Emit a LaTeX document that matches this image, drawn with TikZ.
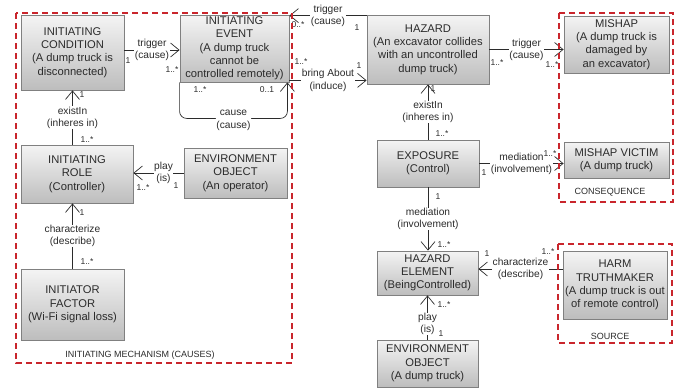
\documentclass[tikz,border=0pt]{standalone}
\usepackage{fontspec}
\setmainfont{Liberation Sans}
\usetikzlibrary{arrows.meta}
\definecolor{frame}{HTML}{C9252C}
\definecolor{ink}{HTML}{2B2B2B}
\definecolor{boxedge}{HTML}{808080}
\definecolor{boxtop}{HTML}{F4F4F4}
\definecolor{boxbot}{HTML}{BDBDBD}
\begin{document}
\begin{tikzpicture}[x=1pt,y=-1pt,
  concept/.style={draw=boxedge, line width=0.8pt, top color=boxtop, bottom color=boxbot,
    align=center, text=ink, inner sep=1pt, font=\fontsize{11.2}{13.3}\selectfont},
  rel/.style={draw=ink, line width=0.7pt, -{Straight Barb[length=8.5pt,width=14pt]}},
  rellabel/.style={fill=white, inner sep=0.5pt, align=center, text=ink,
    font=\fontsize{10.2}{12.2}\selectfont},
  mult/.style={text=ink, inner sep=0pt, font=\fontsize{8.5}{10}\selectfont},
  region/.style={draw=frame, line width=1.6pt, dash pattern=on 6pt off 4pt},
  regionlabel/.style={text=ink, inner sep=0pt, font=\fontsize{9}{11}\selectfont}
]
\useasboundingbox (0,0) rectangle (681,388);

% concepts
\node[concept, minimum width=103pt, minimum height=75pt] (cond) at (72.5,52.5)
  {INITIATING\\CONDITION\\(A dump truck is\\disconnected)};
\node[concept, minimum width=109pt, minimum height=67pt] (event) at (234.5,48.5)
  {INITIATING\\EVENT\\(A dump truck\\cannot be\\controlled remotely)};
\node[concept, minimum width=122pt, minimum height=69pt] (hazard) at (428,49.5)
  {HAZARD\\(An excavator collides\\with an uncontrolled\\dump truck)};
\node[concept, minimum width=105pt, minimum height=57pt] (mishap) at (616.5,44.5)
  {MISHAP\\(A dump truck is\\damaged by\\an excavator)};
\node[concept, minimum width=105pt, minimum height=36pt] (victim) at (616.5,160)
  {MISHAP VICTIM\\(A dump truck)};
\node[concept, minimum width=112pt, minimum height=58pt] (role) at (77,174)
  {INITIATING\\ROLE\\(Controller)};
\node[concept, minimum width=103pt, minimum height=50pt] (envop) at (235.5,173)
  {ENVIRONMENT\\OBJECT\\(An operator)};
\node[concept, minimum width=103pt, minimum height=71pt] (factor) at (72.5,304.5)
  {INITIATOR\\FACTOR\\(Wi-Fi signal loss)};
\node[concept, minimum width=102pt, minimum height=47pt] (exposure) at (428,163.5)
  {EXPOSURE\\(Control)};
\node[concept, minimum width=101pt, minimum height=44pt] (helem) at (427.5,273)
  {HAZARD\\ELEMENT\\(BeingControlled)};
\node[concept, minimum width=101pt, minimum height=47pt] (envdt) at (427.5,363.5)
  {ENVIRONMENT\\OBJECT\\(A dump truck)};
\node[concept, minimum width=104pt, minimum height=68pt] (harm) at (615,285)
  {HARM\\TRUTHMAKER\\(A dump truck is out\\of remote control)};

% relations
\draw[rel] ([yshift=2.5pt]cond.east) -- node[rellabel]{trigger\\(cause)} ([yshift=2.5pt]cond.east -| event.west);
\draw[rel] ([yshift=-1pt]hazard.north west) -- node[rellabel]{trigger\\(cause)} ([yshift=-1pt]event.north east);
\draw[rel] ([yshift=2pt]event.south east) -- node[rellabel]{bring About\\(induce)} ([yshift=2pt]event.south east -| hazard.west);
\draw[rel] (hazard.east) -- node[rellabel]{trigger\\(cause)} (hazard.east -| mishap.west);
\draw[rel] (exposure.north) -- node[rellabel]{existIn\\(inheres in)} (exposure.north |- hazard.south);
\draw[rel] (exposure.east) -- node[rellabel]{mediation\\(involvement)} (exposure.east -| victim.west);
\draw[rel] (exposure.south) -- node[rellabel]{mediation\\(involvement)} (exposure.south |- helem.north);
\draw[rel] ([yshift=4pt]helem.east -| harm.west) -- node[rellabel]{characterize\\(describe)} ([yshift=4pt]helem.east);
\draw[rel] (envdt.north) -- node[rellabel, pos=0.35]{play\\(is)} (envdt.north |- helem.south);
\draw[rel] (envop.west) -- node[rellabel, pos=0.4]{play\\(is)} (envop.west -| role.east);
\draw[rel] (role.north -| cond.south) -- node[rellabel]{existIn\\(inheres in)} (cond.south);
\draw[rel] (factor.north) -- node[rellabel]{characterize\\(describe)} (factor.north |- role.south);
\draw[rel, rounded corners=7pt] (event.south west) -- ([yshift=-36pt]event.south west)
  -- node[rellabel, yshift=-2pt]{cause\\(cause)} ([yshift=-36pt, xshift=-2pt]event.south east)
  -- ([xshift=-2pt]event.south east);

% multiplicities
\node[mult] (m1)  at (128,61)  {1};
\node[mult] (m2)  at (172,70)  {1..*};
\node[mult] (m3)  at (298,25)  {0..*};
\node[mult] (m4)  at (357,28)  {1};
\node[mult] (m5)  at (301,62)  {1..*};
\node[mult] (m6)  at (359,66)  {1};
\node[mult] (m7)  at (497,63)  {1..*};
\node[mult] (m8)  at (552,65)  {1..*};
\node[mult] (m9)  at (433,89)  {1};
\node[mult] (m10) at (442,134) {1..*};
\node[mult] (m11) at (484,173) {1};
\node[mult] (m12) at (550,154) {1..*};
\node[mult] (m13) at (438,197) {1};
\node[mult] (m14) at (444,245) {1..*};
\node[mult] (m15) at (487,254) {1};
\node[mult] (m16) at (548,252) {1..*};
\node[mult] (m17) at (444,305) {1..*};
\node[mult] (m18) at (441,334) {1};
\node[mult] (m19) at (143,188) {1..*};
\node[mult] (m20) at (176,186) {1};
\node[mult] (m21) at (82,95)   {1};
\node[mult] (m22) at (87,140)  {1..*};
\node[mult] (m23) at (82,213)  {1};
\node[mult] (m24) at (87,262)  {1..*};
\node[mult] (m25) at (200,90)  {1..*};
\node[mult] (m26) at (267,90)  {0..1};

% grouping frames
\draw[region] (16,13) rectangle (292,363);
\draw[region] (559,13) rectangle (673,202);
\draw[region] (558,244) rectangle (672,343);
\node[regionlabel] (mechanism) at (140,355) {INITIATING MECHANISM (CAUSES)};
\node[regionlabel] (consequence) at (610,192) {CONSEQUENCE};
\node[regionlabel] (source) at (610,336) {SOURCE};
\end{tikzpicture}
\end{document}
